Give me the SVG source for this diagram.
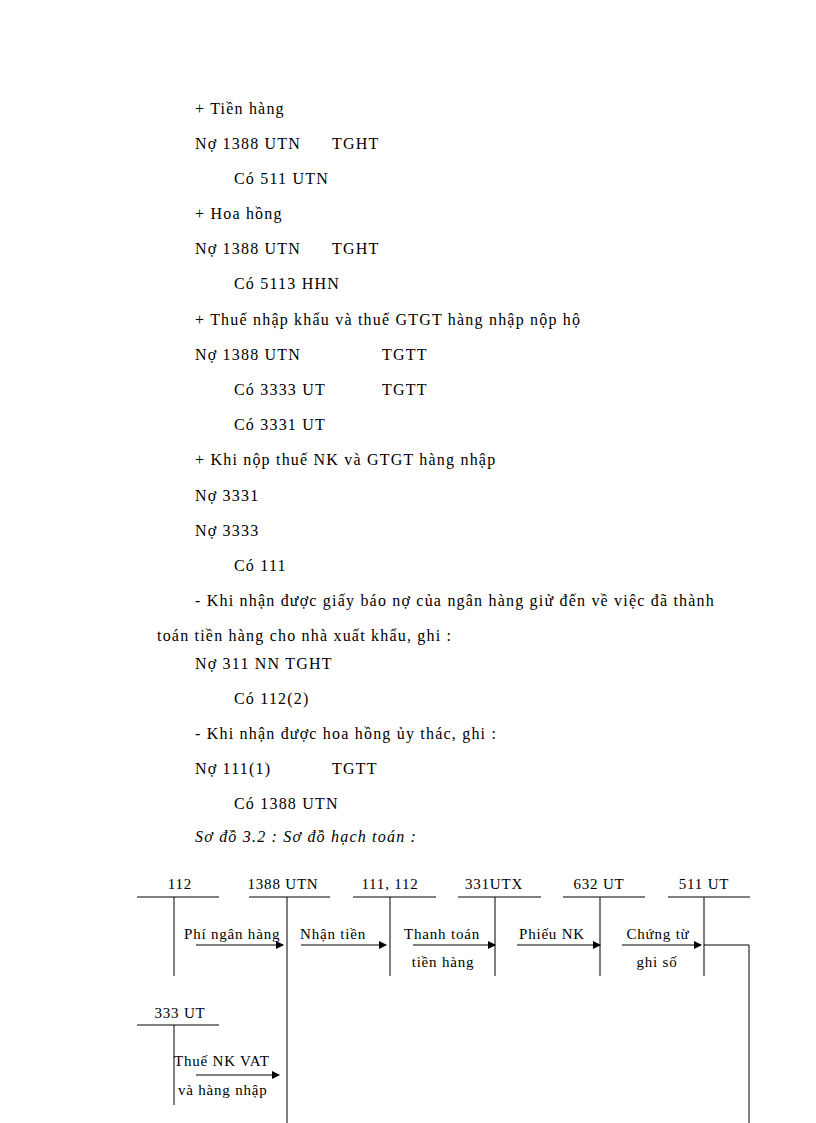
<svg xmlns="http://www.w3.org/2000/svg" width="816" height="1123" viewBox="0 0 816 1123">
<defs><marker id="a" markerWidth="8" markerHeight="8" refX="7" refY="4" orient="auto" markerUnits="userSpaceOnUse"><path d="M0,0 L8,4 L0,8 z" fill="#000"/></marker></defs>
<style>text{font-family:"Liberation Serif",serif;font-size:15px;fill:#000;letter-spacing:0.8px}#body text{font-size:16px;letter-spacing:1.2px}.i{font-style:italic}line,path.c{stroke:#000;stroke-width:1;fill:none}.ar{marker-end:url(#a)}</style>
<rect width="816" height="1123" fill="#fff"/>
<g id="body">
<text x="195" y="114">+ Tiền hàng</text>
<text x="195" y="149">Nợ 1388 UTN</text><text x="332" y="149">TGHT</text>
<text x="234" y="184">Có 511 UTN</text>
<text x="195" y="219">+ Hoa hồng</text>
<text x="195" y="254">Nợ 1388 UTN</text><text x="332" y="254">TGHT</text>
<text x="234" y="289">Có 5113 HHN</text>
<text x="195" y="325">+ Thuế nhập khẩu và thuế GTGT hàng nhập nộp hộ</text>
<text x="195" y="360">Nợ 1388 UTN</text><text x="382" y="360">TGTT</text>
<text x="234" y="395">Có 3333 UT</text><text x="382" y="395">TGTT</text>
<text x="234" y="430">Có 3331 UT</text>
<text x="195" y="465">+ Khi nộp thuế NK và GTGT hàng nhập</text>
<text x="195" y="501">Nợ 3331</text>
<text x="195" y="536">Nợ 3333</text>
<text x="234" y="571">Có 111</text>
<text x="195" y="606">- Khi nhận được giấy báo nợ của ngân hàng giử đến về việc đã thành</text>
<text x="157" y="641">toán tiền hàng cho nhà xuất khẩu, ghi :</text>
<text x="195" y="669">Nợ 311 NN TGHT</text>
<text x="234" y="704">Có 112(2)</text>
<text x="195" y="739">- Khi nhận được hoa hồng ủy thác, ghi :</text>
<text x="195" y="774">Nợ 111(1)</text><text x="332" y="774">TGTT</text>
<text x="234" y="809">Có 1388 UTN</text>
<text x="195" y="842" class="i">Sơ đồ 3.2 : Sơ đồ hạch toán :</text>
</g>
<g id="acc112"><line x1="137" y1="897" x2="219" y2="897"/><line x1="174" y1="897" x2="174" y2="976"/><text x="180" y="889" text-anchor="middle">112</text></g>
<g id="acc1388"><line x1="249" y1="897" x2="330" y2="897"/><line x1="287" y1="897" x2="287" y2="1123"/><text x="283" y="889" text-anchor="middle">1388 UTN</text></g>
<g id="acc111"><line x1="353" y1="897" x2="436" y2="897"/><line x1="390" y1="897" x2="390" y2="976"/><text x="390" y="889" text-anchor="middle">111, 112</text></g>
<g id="acc331"><line x1="458" y1="897" x2="541" y2="897"/><line x1="495" y1="897" x2="495" y2="976"/><text x="494" y="889" text-anchor="middle">331UTX</text></g>
<g id="acc632"><line x1="563" y1="897" x2="645" y2="897"/><line x1="600" y1="897" x2="600" y2="976"/><text x="599" y="889" text-anchor="middle">632 UT</text></g>
<g id="acc511"><line x1="668" y1="897" x2="750" y2="897"/><line x1="704" y1="897" x2="704" y2="976"/><text x="704" y="889" text-anchor="middle">511 UT</text></g>
<g id="acc333"><line x1="137" y1="1025" x2="219" y2="1025"/><line x1="174" y1="1025" x2="174" y2="1105"/><text x="180" y="1018" text-anchor="middle">333 UT</text></g>
<g id="connectors">
<line class="ar" x1="196" y1="945" x2="283" y2="945"/>
<line class="ar" x1="301" y1="945" x2="386" y2="945"/>
<line class="ar" x1="413" y1="945" x2="495" y2="945"/>
<line class="ar" x1="517" y1="945" x2="600" y2="945"/>
<line class="ar" x1="622" y1="945" x2="701" y2="945"/>
<path class="c" d="M704,945 H749 V1123"/>
<line class="ar" x1="196" y1="1075" x2="279" y2="1075"/>
</g>
<g id="labels">
<text x="184" y="939">Phí ngân hàng</text>
<text x="300" y="939">Nhận tiền</text>
<text x="442" y="939" text-anchor="middle">Thanh toán</text>
<text x="443" y="967" text-anchor="middle">tiền hàng</text>
<text x="519" y="939">Phiếu NK</text>
<text x="658" y="939" text-anchor="middle">Chứng từ</text>
<text x="657" y="967" text-anchor="middle">ghi số</text>
<text x="174" y="1066">Thuế NK VAT</text>
<text x="178" y="1095">và hàng nhập</text>
</g>
</svg>
